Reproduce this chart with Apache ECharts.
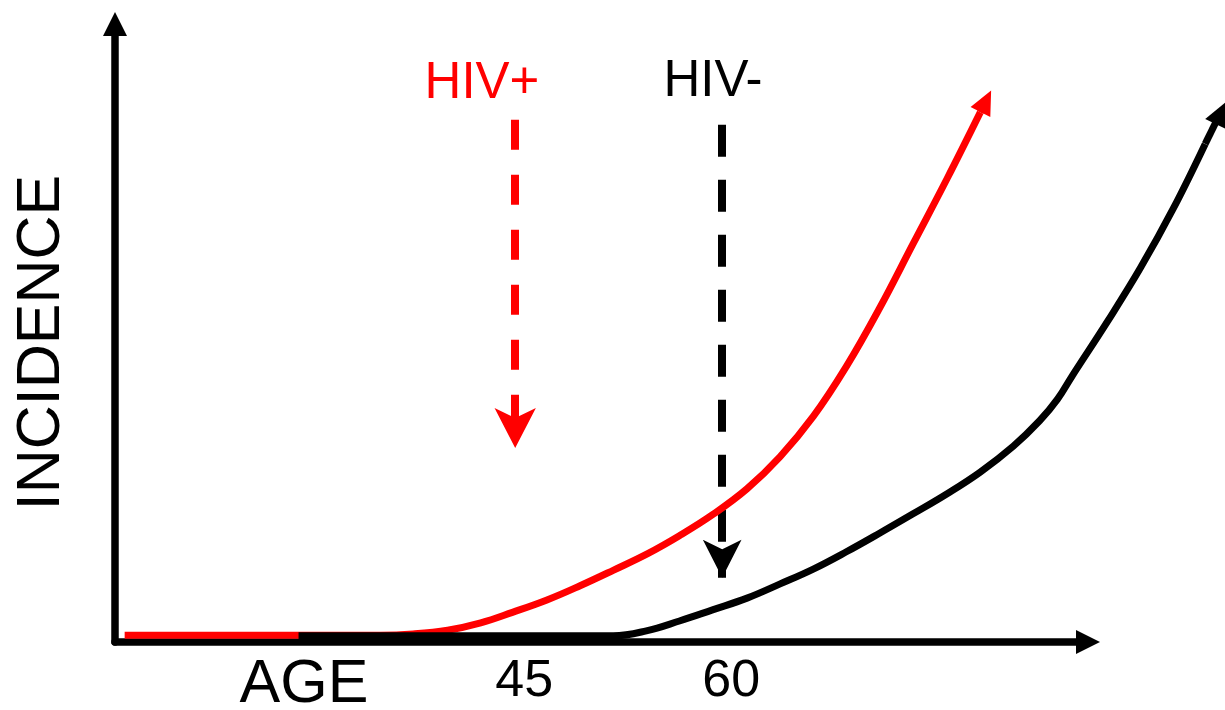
<!DOCTYPE html>
<html>
<head>
<meta charset="utf-8">
<script src="https://cdn.jsdelivr.net/npm/echarts@6/dist/echarts.min.js"></script>
<style>
  html, body { margin: 0; padding: 0; background: #fff; }
  #chart { width: 1225px; height: 710px; }
</style>
</head>
<body>
<div id="chart"></div>
<script>
// ---- Data ----
// Axis titles and tick labels
const xAxisTitle = 'AGE';
const yAxisTitle = 'INCIDENCE';
const tickAges = [45, 60];

// HIV+ incidence curve (red)
const hivPosAge = [16.7, 35.2, 37.6, 40.1, 42.5, 44.8, 47.3, 49.7, 52.1, 54.6, 56.9, 59.3, 61.8, 64.2, 66.6, 69.0, 71.4, 73.8, 76.3, 78.7];
const hivPosInc = [1.1, 1.1, 1.3, 1.9, 3.1, 4.8, 6.8, 9.1, 11.6, 14.3, 17.2, 20.6, 24.8, 30.0, 36.5, 44.6, 54.0, 64.3, 75.0, 85.7];
const hivPosHead = [79.1, 87.5];   // centre of the end arrow head

// HIV- incidence curve (black)
const hivNegAge = [29.3, 52.1, 54.5, 56.9, 59.3, 61.8, 64.2, 66.6, 69.0, 71.4, 73.8, 76.3, 78.7, 81.1, 83.0, 84.3, 85.4, 87.9, 90.3, 92.7, 95.0];
const hivNegInc = [1.0, 1.0, 1.8, 3.4, 5.2, 7.1, 9.4, 11.8, 14.6, 17.6, 20.7, 24.0, 27.5, 31.7, 35.8, 39.3, 43.2, 51.8, 60.5, 70.2, 80.6];
const hivNegHead = [96.1, 85.6];   // centre of the end arrow head

// Dashed downward arrows (age of onset shift)
const groupNames = ['HIV+', 'HIV-'];
const arrowAge = [45, 60];
const arrowFromInc = [84.5, 83.7];
const arrowToInc = [31.4, 10.4];

// ---- Build ----
const FONT = '"Liberation Sans", Arial, Helvetica, sans-serif';
const RED = '#ff0000';
const BLACK = '#000000';

function zip(xs, ys) { return xs.map((x, i) => [x, ys[i]]); }
const hivPos = zip(hivPosAge, hivPosInc);
const hivNeg = zip(hivNegAge, hivNegInc);

const chart = echarts.init(document.getElementById('chart'), null, { renderer: 'canvas' });

const W = 1225;
const GRID_TOP = 24, GRID_BOTTOM = 68, GRID_LEFT = 115;
const X_MIN = 16, X_MAX_AXIS = 86.5;
const PX_PER_YEAR = 13.8;
const X_MAX_PLOT = X_MIN + (W - GRID_LEFT) / PX_PER_YEAR;

const option = {
  animation: false,
  backgroundColor: '#ffffff',
  grid: [
    { left: GRID_LEFT, right: 137, top: GRID_TOP, bottom: GRID_BOTTOM, outerBoundsMode: 'none' },
    // plotting grid with the same scale, extended to the right edge of the canvas
    { left: GRID_LEFT, right: 0, top: GRID_TOP, bottom: GRID_BOTTOM, outerBoundsMode: 'none' }
  ],
  xAxis: [
    {
      gridIndex: 0,
      type: 'value',
      min: X_MIN,
      max: X_MAX_AXIS,
      axisLine: {
        show: true,
        onZero: true,
        symbol: ['none', 'triangle'],
        symbolSize: [24, 24],
        lineStyle: { color: BLACK, width: 7.5 }
      },
      axisTick: { show: false },
      splitLine: { show: false },
      axisLabel: {
        customValues: tickAges,
        formatter: function (v) { return String(v); },
        fontSize: 52,
        fontFamily: FONT,
        color: BLACK,
        margin: 14,
        padding: [0, 0, 0, 18]
      }
    },
    {
      gridIndex: 1,
      type: 'value',
      min: X_MIN,
      max: X_MAX_PLOT,
      show: false
    }
  ],
  yAxis: [
    {
      gridIndex: 0,
      type: 'value',
      min: 0,
      max: 100,
      axisLine: {
        show: true,
        symbol: ['none', 'triangle'],
        symbolSize: [24, 24],
        lineStyle: { color: BLACK, width: 7.5 }
      },
      axisTick: { show: false },
      splitLine: { show: false },
      axisLabel: { show: false }
    },
    {
      gridIndex: 1,
      type: 'value',
      min: 0,
      max: 100,
      show: false
    }
  ],
  series: [
    {
      name: groupNames[0],
      type: 'line',
      xAxisIndex: 1, yAxisIndex: 1,
      data: hivPos,
      smooth: 0.4,
      showSymbol: false,
      symbol: 'none',
      lineStyle: { color: RED, width: 7 },
      z: 3
    },
    {
      name: groupNames[1],
      type: 'line',
      xAxisIndex: 1, yAxisIndex: 1,
      data: hivNeg,
      smooth: 0.4,
      showSymbol: false,
      symbol: 'none',
      lineStyle: { color: BLACK, width: 7 },
      z: 4
    },
    // curve-end arrow heads
    {
      type: 'lines',
      coordinateSystem: 'cartesian2d',
      xAxisIndex: 1, yAxisIndex: 1,
      symbol: ['none', 'triangle'],
      symbolSize: [[22, 24], [22, 24]],
      lineStyle: { color: RED, width: 7, opacity: 1, curveness: 0 },
      data: [{ coords: [hivPos[hivPos.length - 1], hivPosHead] }],
      z: 3
    },
    {
      type: 'lines',
      coordinateSystem: 'cartesian2d',
      xAxisIndex: 1, yAxisIndex: 1,
      symbol: ['none', 'triangle'],
      symbolSize: [[22, 24], [22, 24]],
      lineStyle: { color: BLACK, width: 7, opacity: 1, curveness: 0 },
      data: [{ coords: [hivNeg[hivNeg.length - 1], hivNegHead] }],
      z: 4
    },
    // dashed downward arrows
    {
      type: 'lines',
      coordinateSystem: 'cartesian2d',
      xAxisIndex: 1, yAxisIndex: 1,
      symbol: ['none', 'arrow'],
      symbolSize: [[31, 40], [31, 40]],
      lineStyle: { color: RED, width: 8, opacity: 1, type: [30, 25], curveness: 0 },
      data: [{ coords: [[arrowAge[0], arrowFromInc[0]], [arrowAge[0], arrowToInc[0]]] }],
      z: 2
    },
    {
      type: 'lines',
      coordinateSystem: 'cartesian2d',
      xAxisIndex: 1, yAxisIndex: 1,
      symbol: ['none', 'arrow'],
      symbolSize: [[29, 38], [29, 38]],
      lineStyle: { color: BLACK, width: 8, opacity: 1, type: [32, 23], curveness: 0 },
      data: [{ coords: [[arrowAge[1], arrowFromInc[1]], [arrowAge[1], arrowToInc[1]]] }],
      z: 2
    }
  ],
  graphic: [
    {
      type: 'text', x: 482, y: 84,
      style: { text: groupNames[0], fill: RED, font: '51px ' + FONT,
        textAlign: 'center', textVerticalAlign: 'middle', align: 'center', verticalAlign: 'middle' }
    },
    {
      type: 'text', x: 713, y: 82,
      style: { text: groupNames[1], fill: BLACK, font: '51px ' + FONT,
        textAlign: 'center', textVerticalAlign: 'middle', align: 'center', verticalAlign: 'middle' }
    },
    {
      type: 'text', x: 304, y: 685,
      style: { text: xAxisTitle, fill: BLACK, font: '61px ' + FONT,
        textAlign: 'center', textVerticalAlign: 'middle', align: 'center', verticalAlign: 'middle' }
    },
    {
      type: 'text', x: 42.5, y: 342.5, rotation: Math.PI / 2,
      style: { text: yAxisTitle, fill: BLACK, font: '61px ' + FONT,
        textAlign: 'center', textVerticalAlign: 'middle', align: 'center', verticalAlign: 'middle' }
    }
  ]
};

chart.setOption(option);
</script>
</body>
</html>
